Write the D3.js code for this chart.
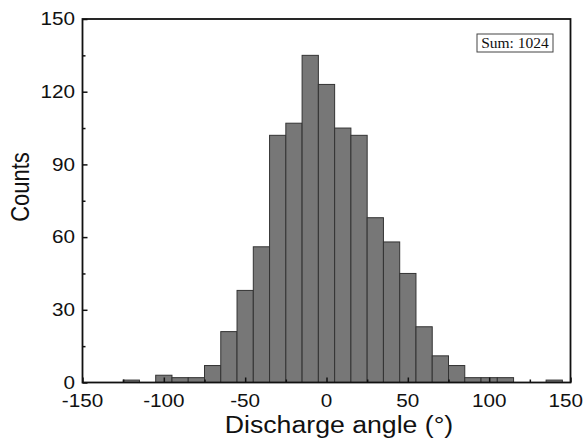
<!DOCTYPE html>
<html>
<head>
<meta charset="utf-8">
<script src="https://cdn.jsdelivr.net/npm/d3@7"></script>
<style>
  html, body { margin: 0; padding: 0; background: #fff; }
  svg { display: block; }
</style>
</head>
<body>
<svg id="chart" width="584" height="439"></svg>
<script>
// ---- data ----
const binCenters = [-120, -110, -100, -90, -80, -70, -60, -50, -40, -30, -20, -10, 0, 10, 20, 30, 40, 50, 60, 70, 80, 90, 100, 110, 120, 130, 140];
const counts     = [1, 0, 3, 2, 2, 7, 21, 38, 56, 102, 107, 135, 123, 105, 102, 68, 58, 45, 23, 11, 7, 2, 2, 2, 0, 0, 1];
const binWidth = 10;
const xMajorTicks = [-150, -100, -50, 0, 50, 100, 150];
const xMinorTicks = [-125, -75, -25, 25, 75, 125];
const yMajorTicks = [0, 30, 60, 90, 120, 150];
const yMinorTicks = [15, 45, 75, 105, 135];
const xTitle = "Discharge angle (°)";
const yTitle = "Counts";
const sumLabel = "Sum: 1024";

// ---- layout ----
const plotLeft = 82.5, plotRight = 570.5, plotTop = 19, plotBottom = 382.5;
const sx = 1.15; // horizontal stretch of the original typography

const svg = d3.select("#chart");
const x = d3.scaleLinear().domain([-150, 150]).range([plotLeft, plotRight]);
const y = d3.scaleLinear().domain([0, 150]).range([plotBottom, plotTop]);

// bars
const data = binCenters.map((c, i) => ({ c, n: counts[i] })).filter(d => d.n > 0);
svg.append("g").selectAll("rect").data(data).join("rect")
  .attr("x", d => x(d.c - binWidth / 2))
  .attr("width", d => x(d.c + binWidth / 2) - x(d.c - binWidth / 2))
  .attr("y", d => y(d.n))
  .attr("height", d => y(0) - y(d.n))
  .attr("fill", "#777777")
  .attr("stroke", "#333333")
  .attr("stroke-width", 1);

// axes (ticks only, inward)
function styleAxis(g) {
  g.select(".domain").remove();
  g.selectAll("line").attr("stroke", "#111").attr("stroke-width", 1.5);
  g.selectAll("text").remove();
}
svg.append("g").attr("transform", `translate(0,${plotBottom})`)
  .call(d3.axisBottom(x).tickValues(xMajorTicks).tickSize(-5).tickFormat(""))
  .call(styleAxis);
svg.append("g").attr("transform", `translate(0,${plotBottom})`)
  .call(d3.axisBottom(x).tickValues(xMinorTicks).tickSize(-3).tickFormat(""))
  .call(styleAxis);
svg.append("g").attr("transform", `translate(${plotLeft},0)`)
  .call(d3.axisLeft(y).tickValues(yMajorTicks).tickSize(-5).tickFormat(""))
  .call(styleAxis);
svg.append("g").attr("transform", `translate(${plotLeft},0)`)
  .call(d3.axisLeft(y).tickValues(yMinorTicks).tickSize(-3).tickFormat(""))
  .call(styleAxis);

// frame
svg.append("rect")
  .attr("x", plotLeft).attr("y", plotTop)
  .attr("width", plotRight - plotLeft).attr("height", plotBottom - plotTop)
  .attr("fill", "none").attr("stroke", "#111").attr("stroke-width", 1.8);

// tick labels
const font = "'Liberation Sans', Arial, Helvetica, sans-serif";
svg.append("g").selectAll("text").data(xMajorTicks).join("text")
  .attr("text-anchor", "middle")
  .attr("font-family", font).attr("font-size", 18).attr("fill", "#111")
  .text(d => d)
  .attr("transform", function(d) {
    const half = this.getComputedTextLength() * sx / 2;
    const cx = Math.min(x(d), 583 - half);
    return `translate(${cx},407) scale(${sx},1)`;
  });
svg.append("g").selectAll("text").data(yMajorTicks).join("text")
  .attr("transform", d => `translate(75,${y(d)}) scale(${sx},1)`)
  .attr("text-anchor", "end").attr("dy", "0.35em")
  .attr("font-family", font).attr("font-size", 18).attr("fill", "#111")
  .text(d => d);

// axis titles
svg.append("text")
  .attr("transform", `translate(339,433) scale(1.16,1)`)
  .attr("text-anchor", "middle")
  .attr("font-family", font).attr("font-size", 23).attr("fill", "#111")
  .text(xTitle);
svg.append("text")
  .attr("transform", `translate(29,187) rotate(-90) scale(1,1.17)`)
  .attr("text-anchor", "middle")
  .attr("font-family", font).attr("font-size", 22).attr("fill", "#111")
  .text(yTitle);

// sum box
svg.append("rect")
  .attr("x", 477).attr("y", 34).attr("width", 76).attr("height", 18)
  .attr("fill", "#fff").attr("stroke", "#444").attr("stroke-width", 1);
svg.append("text")
  .attr("x", 515).attr("y", 48)
  .attr("text-anchor", "middle")
  .attr("font-family", "'Liberation Serif', 'Times New Roman', serif")
  .attr("font-size", 15.5).attr("fill", "#111")
  .text(sumLabel);
</script>
</body>
</html>
